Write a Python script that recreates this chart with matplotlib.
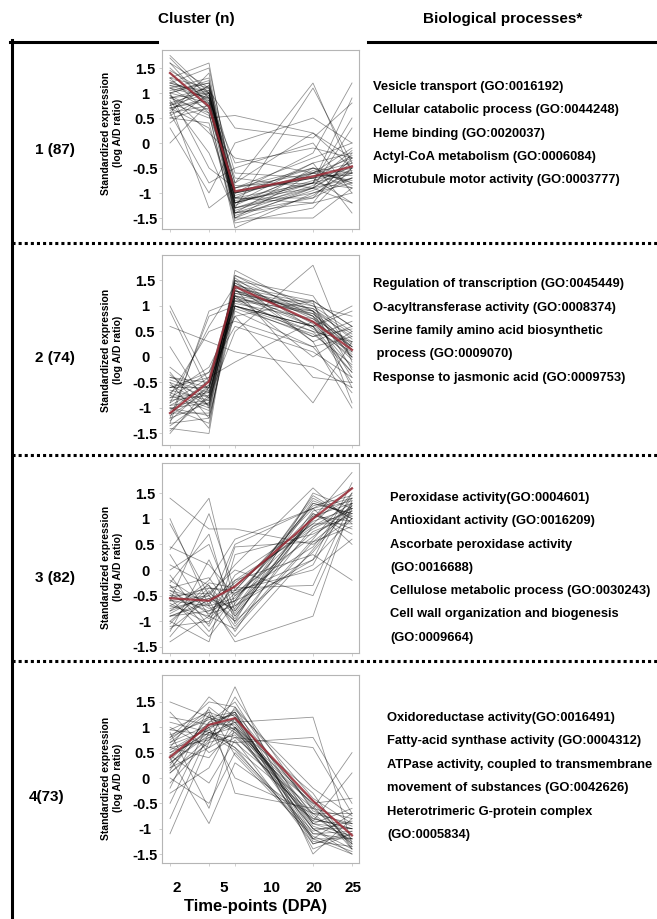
import matplotlib
matplotlib.use('Agg')
import matplotlib.pyplot as plt
from matplotlib.lines import Line2D

plt.rcParams['font.family'] = ['Liberation Sans', 'DejaVu Sans']

# ---------------- data ----------------
time_points = [2, 5, 7, 13, 16]
time_labels = ['2', '5', '10', '20', '25']
y_tick_values = [-1.5, -1, -0.5, 0, 0.5, 1, 1.5]
y_tick_labels = ['-1.5', '-1', '-0.5', '0', '0.5', '1', '1.5']
cluster_labels = ['1 (87)', '2 (74)', '3 (82)', '4(73)']
header_left = 'Cluster (n)'
header_right = 'Biological processes*'
x_title = 'Time-points (DPA)'
y_title = 'Standardized expression\n(log A/D ratio)'

go_terms_1 = ['Vesicle transport (GO:0016192)',
              'Cellular catabolic process (GO:0044248)',
              'Heme binding (GO:0020037)',
              'Actyl-CoA metabolism (GO:0006084)',
              'Microtubule motor activity (GO:0003777)']
go_terms_2 = ['Regulation of transcription (GO:0045449)',
              'O-acyltransferase activity (GO:0008374)',
              'Serine family amino acid biosynthetic',
              ' process (GO:0009070)',
              'Response to jasmonic acid (GO:0009753)']
go_terms_3 = ['Peroxidase activity(GO:0004601)',
              'Antioxidant activity (GO:0016209)',
              'Ascorbate peroxidase activity',
              '(GO:0016688)',
              'Cellulose metabolic process (GO:0030243)',
              'Cell wall organization and biogenesis',
              '(GO:0009664)']
go_terms_4 = ['Oxidoreductase activity(GO:0016491)',
              'Fatty-acid synthase activity (GO:0004312)',
              'ATPase activity, coupled to transmembrane',
              'movement of substances (GO:0042626)',
              'Heterotrimeric G-protein complex',
              '(GO:0005834)']

cluster1 = [
    [1.75, 1.0, -1.2, -0.8, -0.6], [1.7, 0.9, -1.4, -0.9, -0.7],
    [1.6, 1.1, -1.0, -0.7, -0.5], [1.5, 0.8, -1.3, -1.0, -0.8],
    [1.4, 0.7, -0.9, -0.6, -0.3], [1.3, 1.6, -1.2, -0.8, -0.9],
    [1.2, 1.5, -1.0, -0.5, -0.6], [1.2, 1.0, -0.8, 1.2, -0.6],
    [1.1, 1.3, -1.5, -0.9, 0.3], [1.1, 0.9, -1.1, -0.4, -0.2],
    [1.0, 1.2, -0.6, -0.7, -1.2], [1.0, -0.5, -0.9, -0.3, 0.0],
    [0.9, 0.6, -1.6, -1.3, -0.5], [0.9, 1.1, -1.3, 1.1, -0.4],
    [0.8, 0.5, 0.55, 0.2, -0.3], [0.8, -1.3, -0.9, -0.5, -0.8],
    [0.75, 1.0, -1.0, -0.2, 1.2], [0.7, 0.3, -1.2, -0.6, -0.1],
    [0.7, 0.9, -0.7, -0.9, -0.4], [0.6, 1.4, -1.4, -1.1, -0.7],
    [0.6, -0.8, -0.5, 0.0, -1.0], [0.5, 0.7, -1.1, -0.8, 0.5],
    [0.5, 0.4, -1.5, -1.5, -0.9], [0.4, 1.0, -1.2, -0.4, -1.4],
    [0.3, -1.0, 0.0, 0.5, 0.0], [0.0, 0.8, -1.0, -0.7, -0.6],
    [1.3, 0.6, -1.7, -1.0, -0.7], [1.15, 1.05, 0.3, 0.1, 0.8],
    [0.95, 0.2, -0.3, -0.6, -0.9], [1.05, 1.2, -1.3, -0.8, 0.9],
    [0.85, -0.2, -1.4, -1.2, -1.0], [1.25, 0.85, -0.4, -0.1, -0.3],
    [0.65, 1.15, -0.8, 0.2, -0.5], [1.45, 1.0, -1.1, -1.2, -0.2],
    [0.55, 0.95, -1.3, -0.9, -1.2], [1.6, 0.75, -1.5, -0.6, -0.4],
    [1.0, 0.8, -1.2, -0.75, -0.55], [0.9, 1.0, -1.35, -0.85, -0.35],
    [1.2, 0.95, -1.05, -0.6, -0.75], [0.7, 0.85, -1.45, -0.95, -0.6],
    [1.1, 0.65, -0.95, -0.7, -0.25], [0.8, 1.05, -1.25, -0.55, -0.8],
    [1.3, 1.1, -1.15, -0.9, -0.45], [0.6, 0.75, -1.0, -0.65, -0.65],
    [1.0, 1.25, -1.55, -1.05, -0.5], [0.95, 0.55, -0.85, -0.8, -0.15],
    [1.15, 0.9, -1.4, -0.5, -0.85], [0.75, 1.15, -1.1, -1.1, -0.3],
]
mean1 = [1.4, 0.73, -0.97, -0.67, -0.47]

cluster2 = [
    [-1.4, -1.5, 1.5, 0.9, 0.2], [-1.2, -0.9, 1.6, 1.0, 0.5],
    [-1.1, -0.6, 1.3, 0.8, 0.0], [-1.0, -1.3, 1.2, 0.6, -0.3],
    [-0.9, -0.4, 1.4, 1.1, 0.6], [-0.8, -0.7, 1.1, 0.5, 0.3],
    [-0.7, -1.0, 1.7, 0.9, -0.6], [-0.6, -0.3, 1.0, 0.4, 0.7],
    [-0.5, -0.8, 1.5, 1.2, 0.1], [-0.4, -0.5, 1.2, 0.7, -0.2],
    [-0.3, -1.2, 0.9, 0.2, 0.4], [-1.5, -0.6, 1.3, 0.6, 0.9],
    [-1.3, 0.9, 1.1, 0.9, 0.0], [-1.2, 0.8, 1.0, 0.6, -0.5],
    [-0.9, 0.6, 1.4, 0.3, 0.6], [-0.7, -0.2, 0.8, 1.1, -0.9],
    [-0.5, -1.4, 1.6, 0.8, 0.2], [-1.0, -0.9, 1.2, 0.0, 0.5],
    [1.0, -0.5, 0.8, -0.9, 0.3], [0.9, -0.7, 1.0, 0.5, -0.3],
    [0.6, 0.3, 0.1, -0.2, -0.6], [0.2, -1.0, 1.3, 1.0, 0.8],
    [-0.2, -0.8, 0.5, 1.8, -0.1], [-0.6, -0.4, -0.1, 0.7, 0.2],
    [-1.1, -1.1, 1.5, 0.3, -1.0], [-0.8, -0.3, 0.6, 0.1, -0.4],
    [-0.4, -0.6, 1.1, 1.1, 0.6], [-1.3, -1.2, 1.0, 0.6, 1.0],
    [-0.95, -0.55, 1.45, 0.75, 0.05], [-0.65, -0.85, 1.25, 0.95, 0.35],
    [-1.45, -0.75, 0.95, 0.45, -0.15], [-0.35, -0.95, 1.35, -0.4, -0.5],
    [-1.05, -0.45, 1.15, 0.85, 0.15], [-0.75, 0.5, 0.7, 0.2, -0.7],
    [-0.85, -0.75, 1.3, 0.85, 0.25], [-1.15, -0.65, 1.45, 0.65, -0.05],
    [-0.55, -0.95, 1.2, 0.95, 0.45], [-0.95, -0.85, 1.55, 0.55, 0.1],
    [-1.25, -0.55, 1.05, 0.75, 0.3], [-0.45, -0.7, 1.35, 1.05, -0.25],
    [-0.75, -1.05, 1.15, 0.4, 0.55], [-1.35, -0.8, 1.4, 0.8, -0.4],
    [-0.6, -0.6, 1.0, 0.6, 0.0], [-1.0, -1.15, 1.25, 0.9, 0.4],
]
mean2 = [-1.1, -0.48, 1.38, 0.69, 0.14]

cluster3 = [
    [-0.5, -0.8, -0.4, 1.2, 1.6], [-0.7, -0.3, -0.9, 1.0, 1.4],
    [-0.9, -0.6, -0.2, 0.8, 1.2], [-1.1, -1.0, -0.6, 1.4, 1.0],
    [-1.3, -0.4, -1.1, 0.6, 1.5], [-0.3, -1.2, -0.5, 1.1, 0.8],
    [-0.2, -0.7, -1.3, 0.4, 1.3], [0.0, 0.5, -0.8, 1.3, 1.1],
    [0.3, -0.9, -0.3, 0.9, 0.9], [0.4, 1.4, -0.7, 0.2, 1.7],
    [0.9, -0.5, -1.0, 1.5, 1.2], [1.4, 0.8, 0.8, 0.5, 1.0],
    [-0.6, 1.1, -0.4, 0.0, 0.6], [-0.8, -0.2, 0.6, 1.2, 1.4],
    [-1.0, -1.4, 0.3, 0.7, 1.1], [-0.4, -0.6, -1.4, -0.9, 1.3],
    [-1.2, 0.2, -0.9, 1.0, 1.9], [-0.1, -1.1, -0.2, 0.3, -0.2],
    [-0.6, -0.5, 0.1, 1.6, 0.9], [-0.9, -0.8, -0.6, 0.1, 1.5],
    [0.1, -0.3, -1.2, 1.1, 0.7], [-0.45, -0.95, -0.45, 0.65, 1.25],
    [-0.75, -0.55, -0.75, 1.35, 1.05], [-1.05, -0.25, -0.35, -0.3, 1.35],
    [-0.25, 0.7, -1.05, 0.85, 1.15], [1.0, -0.7, 0.5, 1.2, 0.5],
    [-1.4, -0.9, -0.1, 0.9, 1.6], [-0.55, -1.3, -0.65, 1.45, 1.0],
    [0.45, 0.1, -0.5, 0.45, 1.4], [-0.85, -0.45, 0.0, -0.5, 1.2],
    [-0.35, -0.15, -0.85, 1.05, 1.3], [-0.65, -1.05, 0.45, 0.55, 0.85],
    [-0.6, -0.7, -0.55, 0.95, 1.2], [-0.8, -0.5, -0.95, 1.15, 1.35],
    [-0.4, -0.85, -0.7, 0.75, 1.05], [-1.0, -0.35, -0.4, 1.25, 1.45],
    [-0.7, -0.9, -1.15, 0.55, 1.15], [-0.5, -0.45, -0.8, 1.05, 0.95],
    [-0.9, -0.65, -0.25, 0.85, 1.3], [-0.3, -0.75, -0.6, 1.3, 1.1],
    [-1.15, -0.55, -1.0, 0.35, 1.25], [-0.55, -0.35, -0.45, 0.2, 1.0],
]
mean3 = [-0.55, -0.6, -0.32, 1.0, 1.59]

cluster4 = [
    [0.2, 1.0, 1.3, -0.6, -1.2], [0.5, 0.8, 1.1, -0.8, -1.0],
    [0.8, 1.2, 0.9, -1.0, -1.4], [1.0, 0.6, 1.4, -0.4, -0.9],
    [-0.2, 1.4, 1.0, -1.2, -1.5], [0.3, 0.9, 0.6, -0.7, -0.7],
    [0.6, 1.6, 1.2, -1.3, -1.1], [1.3, 0.5, 0.8, -0.5, -1.3],
    [-0.5, 1.1, 1.5, -0.9, -0.6], [0.0, -0.5, 0.5, -1.1, -1.2],
    [0.9, -0.6, 1.0, -0.3, -1.4], [-1.1, 0.7, 1.8, -1.5, -0.8],
    [0.4, -0.9, 0.3, -0.8, -1.0], [0.7, 1.3, -0.3, -0.6, 0.5],
    [1.1, 0.9, 1.1, 1.2, -1.3], [0.1, 0.8, 0.7, 0.8, -0.5],
    [-0.3, 0.2, 1.2, -1.0, -1.5], [0.5, 1.0, 0.0, -0.7, -0.9],
    [1.5, 1.2, 1.3, -1.4, -1.1], [0.2, 0.6, 0.9, -0.5, -0.4],
    [0.8, 1.5, 1.4, -1.2, -1.2], [-0.8, 0.9, 0.8, 0.6, -0.7],
    [0.6, 0.4, 1.0, -0.9, -1.0], [0.35, 1.1, 1.25, -0.75, -1.25],
    [0.95, 0.85, 0.55, -1.05, -0.85], [0.15, 1.25, 0.95, -0.45, -1.35],
    [0.65, 0.95, 1.35, -0.2, -0.75], [0.45, -0.1, 0.75, -1.3, -1.05],
    [1.2, 1.05, 1.05, -0.85, 0.1], [-0.1, 0.75, 1.6, -0.65, -0.95],
    [0.75, 1.35, 0.45, -1.15, -1.45],
    [0.55, 1.0, 1.15, -0.9, -1.15], [0.3, 0.85, 1.0, -0.7, -1.3],
    [0.85, 1.15, 1.25, -1.1, -1.05], [0.1, 0.7, 0.85, -0.85, -0.9],
    [0.7, 1.05, 1.3, -1.25, -1.35], [0.45, 0.9, 0.7, -0.6, -0.8],
    [0.95, 1.3, 1.1, -0.95, -1.2], [0.25, 1.2, 0.95, -1.0, -1.0],
    [0.6, 0.75, 1.2, -0.55, -1.4], [0.4, 0.95, 0.6, -1.2, -0.7],
]
mean4 = [0.41, 1.05, 1.18, -0.45, -1.13]

# ---------------- layout (pixels) ----------------
W, H = 657, 919
fig = plt.figure(figsize=(W / 100, H / 100), dpi=100)
fig.patch.set_facecolor('white')


def fx(px):
    return px / W


def fy(py):
    return 1 - py / H


panels = [
    dict(lines=cluster1, mean=mean1, top=50, bottom=229, y0=143, ppu=50.0,
         label=cluster_labels[0], lab_xy=(55, 150), ylab_y=133,
         go=go_terms_1, go_x=373, go_y=87, go_dy=23.3),
    dict(lines=cluster2, mean=mean2, top=255, bottom=445, y0=357, ppu=51.0,
         label=cluster_labels[1], lab_xy=(55, 358), ylab_y=350,
         go=go_terms_2, go_x=373, go_y=284, go_dy=23.5),
    dict(lines=cluster3, mean=mean3, top=463, bottom=653, y0=570, ppu=51.3,
         label=cluster_labels[2], lab_xy=(55, 578), ylab_y=567,
         go=go_terms_3, go_x=390, go_y=498, go_dy=23.3),
    dict(lines=cluster4, mean=mean4, top=675, bottom=863, y0=778, ppu=50.7,
         label=cluster_labels[3], lab_xy=(47, 797), ylab_y=778,
         go=go_terms_4, go_x=387, go_y=718, go_dy=23.4),
]

AX_L, AX_R = 162, 359
X_PX0, X_PPU = 170, 13.0  # pixel of x=2, pixels per unit

for p in panels:
    ax = fig.add_axes([fx(AX_L), fy(p['bottom']), (AX_R - AX_L) / W,
                       (p['bottom'] - p['top']) / H])
    ax.set_xlim(2 - (X_PX0 - AX_L) / X_PPU, 2 + (AX_R - X_PX0) / X_PPU)
    ax.set_ylim((p['y0'] - p['bottom']) / p['ppu'], (p['y0'] - p['top']) / p['ppu'])
    for row in p['lines']:
        ax.plot(time_points, row, color='black', lw=0.6, alpha=0.42,
                solid_joinstyle='miter')
    ax.plot(time_points, p['mean'], color='#9b2a35', lw=1.6, alpha=0.85)
    ax.set_xticks(time_points)
    ax.set_xticklabels([])
    ax.set_yticks(y_tick_values)
    ax.set_yticklabels(y_tick_labels, fontsize=10.5, fontweight='bold', ha='center')
    ax.tick_params(axis='both', color='#c8c8c8', length=2, width=0.6)
    ax.tick_params(axis='y', pad=10.2)
    for s in ax.spines.values():
        s.set_color('#b5b5b5')
        s.set_linewidth(0.8)

    fig.text(fx(112), fy(p['ylab_y']), y_title, rotation=90, ha='center',
             va='center', fontsize=7.5, fontweight='bold', linespacing=1.15,
             multialignment='center')
    fig.text(fx(p['lab_xy'][0]), fy(p['lab_xy'][1]), p['label'], ha='center',
             va='center', fontsize=11, fontweight='bold')
    for i, t in enumerate(p['go']):
        fig.text(fx(p['go_x']), fy(p['go_y'] + i * p['go_dy']), t, ha='left',
                 va='center', fontsize=9.3, fontweight='bold')

# headers
fig.text(fx(196), fy(19), header_left, ha='center', va='center',
         fontsize=11, fontweight='bold')
fig.text(fx(503), fy(19), header_right, ha='center', va='center',
         fontsize=11, fontweight='bold')

# bottom time labels
time_label_x = [177, 224, 271, 314, 353]
for xp, t in zip(time_label_x, time_labels):
    fig.text(fx(xp), fy(888), t, ha='center', va='center', fontsize=11,
             fontweight='bold')
fig.text(fx(256), fy(907), x_title, ha='center', va='center', fontsize=12,
         fontweight='bold')

# frame lines
fig.add_artist(Line2D([fx(11.5), fx(11.5)], [fy(40), fy(919)], color='black',
                      lw=2.2, transform=fig.transFigure))
for x0, x1 in [(10, 157), (368, 657)]:
    fig.add_artist(Line2D([fx(x0), fx(x1)], [fy(41.5), fy(41.5)], color='black',
                          lw=2.2, transform=fig.transFigure))
for ys in [243, 455, 661]:
    fig.add_artist(Line2D([fx(12), fx(657)], [fy(ys), fy(ys)], color='black',
                          lw=2.2, linestyle=(0, (1, 1)),
                          transform=fig.transFigure))

fig.savefig('out.png', dpi=100, facecolor='white')
